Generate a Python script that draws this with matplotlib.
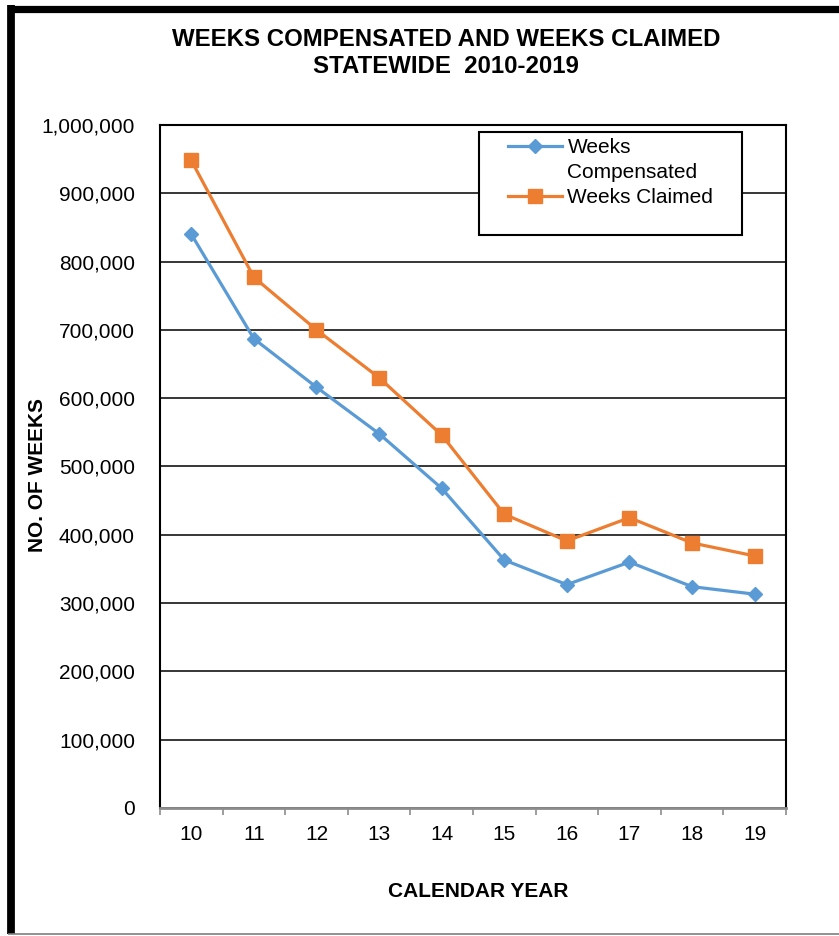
import matplotlib
matplotlib.use('Agg')
import matplotlib.pyplot as plt
from matplotlib.lines import Line2D
from matplotlib.patches import Rectangle
from matplotlib.ticker import FuncFormatter

plt.rcParams['font.family'] = ['Liberation Sans', 'DejaVu Sans']

# Data
years = ['10', '11', '12', '13', '14', '15', '16', '17', '18', '19']
weeks_compensated = [840000, 687000, 616000, 548000, 468000, 363000, 327000, 360000, 324000, 313000]
weeks_claimed = [948000, 777000, 700000, 630000, 546000, 430000, 391000, 425000, 388000, 369000]

blue = '#5B9BD5'
orange = '#ED7D31'

fig = plt.figure(figsize=(8.39, 9.36), dpi=100)
ax = fig.add_axes([0.1907, 0.1368, 0.7461, 0.7297])

x = list(range(len(years)))
ax.plot(x, weeks_compensated, color=blue, lw=2.3, marker='D', ms=7.5,
        label='Weeks Compensated', zorder=3)
ax.plot(x, weeks_claimed, color=orange, lw=2.3, marker='s', ms=10,
        label='Weeks Claimed', zorder=3)

ax.set_xlim(-0.5, len(years) - 0.5)
ax.set_ylim(0, 1000000)
ax.set_yticks(range(0, 1000001, 100000))
ax.yaxis.set_major_formatter(FuncFormatter(lambda v, p: f'{v:,.0f}'))
ax.tick_params(axis='y', length=0, pad=18, labelsize=15)
ax.set_xticks(x)
ax.set_xticklabels(years)
ax.set_xticks([i - 0.5 for i in range(len(years) + 1)], minor=True)
ax.tick_params(axis='x', which='major', length=0, pad=12, labelsize=15)
ax.tick_params(axis='x', which='minor', length=5, width=1.2, color='#8c8c8c', direction='out')

ax.grid(axis='y', color='black', lw=1.1)
ax.set_axisbelow(True)
for s in ['left', 'top', 'right']:
    ax.spines[s].set_color('black')
    ax.spines[s].set_linewidth(1.5)
ax.spines['bottom'].set_color('#8c8c8c')
ax.spines['bottom'].set_linewidth(2)

# legend box
ax.add_patch(Rectangle((0.51, 0.839), 0.42, 0.151, transform=ax.transAxes,
                       facecolor='white', edgecolor='black', lw=1.5, zorder=5))
handles = [Line2D([], [], color=blue, lw=2.3, marker='D', ms=7.5),
           Line2D([], [], color='none'),
           Line2D([], [], color=orange, lw=2.3, marker='s', ms=10)]
labels = ['Weeks', 'Compensated', 'Weeks Claimed']
leg = ax.legend(handles, labels, loc='upper left', bbox_to_anchor=(0.556, 0.981),
                frameon=False, fontsize=15, borderpad=0, handlelength=2.6,
                handletextpad=0.25, labelspacing=0.29, borderaxespad=0)
leg.set_zorder(6)

fig.text(0.5316, 0.9435, 'WEEKS COMPENSATED AND WEEKS CLAIMED\nSTATEWIDE  2010-2019',
         ha='center', va='center', fontsize=17.3, fontweight='bold', linespacing=1.25)
fig.text(0.0447, 0.492, 'NO. OF WEEKS', rotation=90, ha='center', va='center',
         fontsize=15, fontweight='bold')
fig.text(0.570, 0.048, 'CALENDAR YEAR', ha='center', va='center',
         fontsize=15, fontweight='bold')

# outer frame
fig.add_artist(Line2D([0.009, 1.0], [0.9909, 0.9909], color='black', lw=5.2,
                      solid_capstyle='butt', transform=fig.transFigure))
fig.add_artist(Line2D([0.0131, 0.0131], [0.0021, 0.9945], color='black', lw=5.6,
                      solid_capstyle='butt', transform=fig.transFigure))
fig.add_artist(Line2D([0.009, 1.0], [0.0021, 0.0021], color='#7f7f7f', lw=1.2,
                      solid_capstyle='butt', transform=fig.transFigure))

fig.savefig('out.png', dpi=100)
